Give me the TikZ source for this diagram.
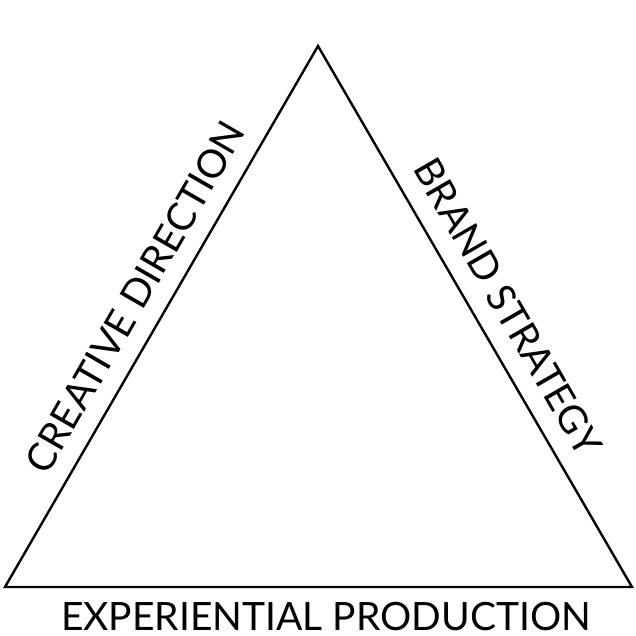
\documentclass[tikz,border=0pt]{standalone}
\usepackage{fontspec}
\setmainfont{Lato}
\begin{document}
\begin{tikzpicture}[x=1pt,y=-1pt,
  side/.style={line width=2.4pt,line join=miter},
  lbl/.style={font=\fontsize{39}{42}\selectfont,inner sep=0pt}]
\useasboundingbox (0,0) rectangle (636,636);
\coordinate (top) at (318,46);
\coordinate (bl) at (5,587);
\coordinate (br) at (632,587);
\draw[side] (top) -- (br) -- (bl) -- cycle;
\node[lbl,rotate=60] (cd) at (135,297) {CREATIVE DIRECTION};
\node[lbl,rotate=-60] (bs) at (508,307) {BRAND STRATEGY};
\node[lbl,anchor=base] (ep) at (326,630) {EXPERIENTIAL PRODUCTION};
\end{tikzpicture}
\end{document}
